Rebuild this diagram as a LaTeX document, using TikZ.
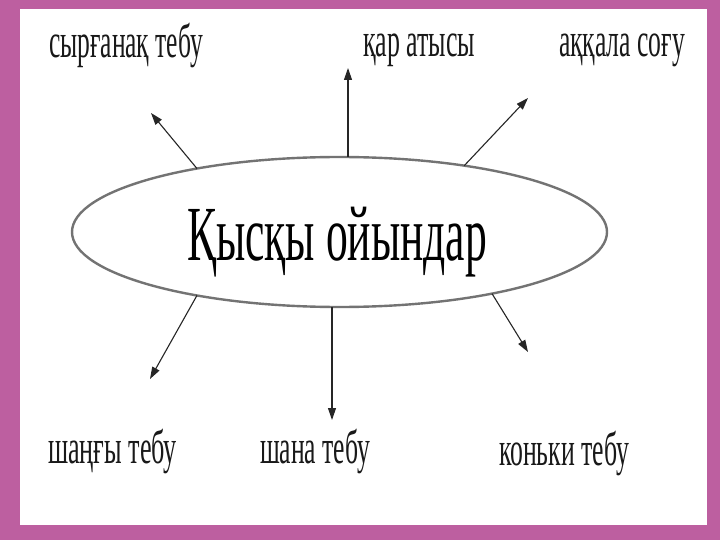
\documentclass[tikz,border=0pt]{standalone}
\usepackage{fontspec}
\setmainfont{Liberation Serif}
\usetikzlibrary{arrows.meta,shapes.geometric}
\definecolor{framepurple}{RGB}{189,95,160}
\newcommand\fitlabel[3]{\resizebox{#1pt}{\height}{\fontsize{#2}{#2}\selectfont #3}}
\begin{document}
\begin{tikzpicture}[x=1pt,y=-1pt,
  lbl/.style={anchor=base west,inner sep=0pt,outer sep=0pt,text=black!90},
  arr/.style={draw=black!85,line width=1.1pt,-{Triangle[length=12pt,width=8pt]}},
  oval/.style={ellipse,draw=black!55,line width=2.4pt,minimum width=535pt,minimum height=150pt,inner sep=0pt,outer sep=0pt}]
\fill[framepurple] (0,0) rectangle (720,540);
\fill[white] (20,9) rectangle (707,525);
\useasboundingbox (0,0) rectangle (720,540);
\node[oval] (main) at (339.5,232) {};
\node[lbl,text=black] (title) at (187,260) {\fitlabel{300}{78}{Қысқы ойындар}};
\node[lbl] (t1) at (49,58) {\fitlabel{154}{48}{сырғанақ тебу}};
\node[lbl] (t2) at (363,57) {\fitlabel{112}{48}{қар атысы}};
\node[lbl] (t3) at (559,57) {\fitlabel{126}{48}{аққала соғу}};
\node[lbl] (t4) at (48,463) {\fitlabel{129}{48}{шаңғы тебу}};
\node[lbl] (t5) at (260,463) {\fitlabel{110}{48}{шана тебу}};
\node[lbl] (t6) at (499,465) {\fitlabel{130}{48}{коньки тебу}};
\coordinate (e1) at (151,113);
\coordinate (e2) at (348,68);
\coordinate (e3) at (528,98);
\coordinate (e4) at (150,379);
\coordinate (e5) at (332,420);
\coordinate (e6) at (528,352);
\draw[arr] (main.156) -- (e1);
\draw[arr] (e2 |- main.north) -- (e2);
\draw[arr] (main.28) -- (e3);
\draw[arr] (main.204) -- (e4);
\draw[arr] (e5 |- main.south) -- (e5);
\draw[arr] (main.338) -- (e6);
\end{tikzpicture}
\end{document}
